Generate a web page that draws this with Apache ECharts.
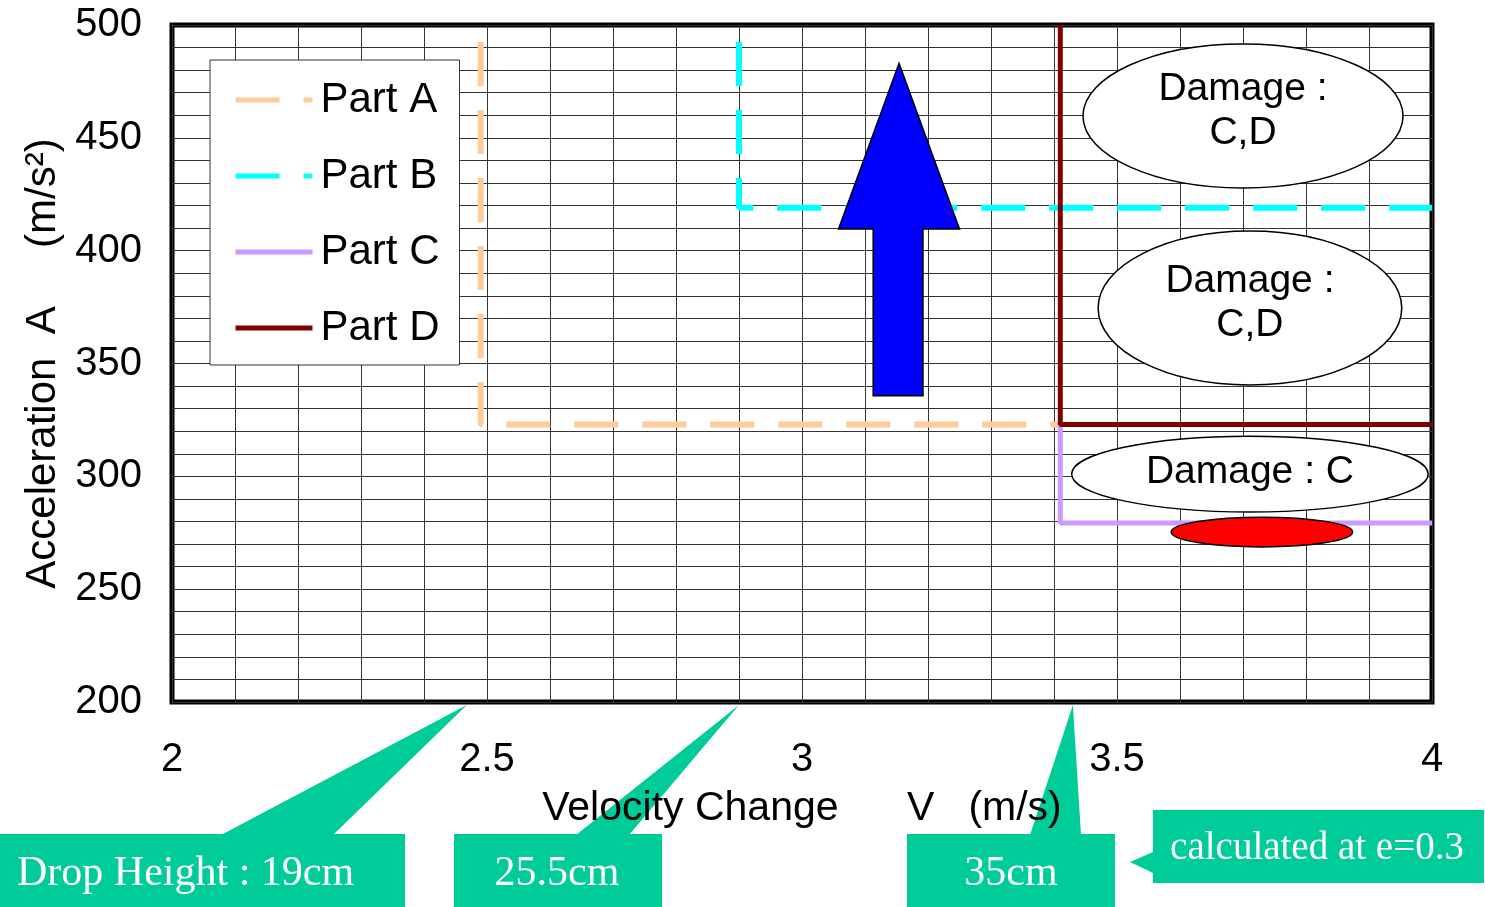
<!DOCTYPE html>
<html>
<head>
<meta charset="utf-8">
<script src="https://cdn.jsdelivr.net/npm/echarts@6/dist/echarts.min.js"></script>
<style>
  html, body { margin: 0; padding: 0; background: #fff; }
  #main { width: 1485px; height: 907px; }
</style>
</head>
<body>
<div id="main"></div>
<script>
// limit lines per part (velocity change V, acceleration A)
var partNames = ['Part A', 'Part B', 'Part C', 'Part D'];
var partAX = [2.49, 2.49, 3.41];
var partAY = [500, 323, 323];
var partBX = [2.90, 2.90, 4.0];
var partBY = [500, 419, 419];
var partCX = [3.41, 3.41, 4.0];
var partCY = [323, 279.3, 279.3];
var partDX = [3.41, 3.41, 4.0];
var partDY = [500, 323, 323];

// big arrow outline (data coords)
var arrowX = [3.154, 3.250, 3.192, 3.192, 3.113, 3.113, 3.058];
var arrowY = [483.0, 409.6, 409.6, 335.7, 335.7, 409.6, 409.6];

// damage ellipses: centre, half width (V), half height (A)
var ellipseCX = [3.700, 3.711, 3.711, 3.730];
var ellipseCY = [459.7, 374.6, 301.0, 275.3];
var ellipseRX = [0.254, 0.241, 0.283, 0.144];
var ellipseRY = [31.9, 34.1, 16.8, 6.6];
var ellipseText = ['Damage :\nC,D', 'Damage :\nC,D', 'Damage : C', ''];

// drop height callouts
var calloutText = ['Drop Height : 19cm', '25.5cm', '35cm'];
var calloutTipV = [2.468, 2.90, 3.43];

function pairs(xs, ys) {
  return xs.map(function (x, i) { return [x, ys[i]]; });
}

var chart = echarts.init(document.getElementById('main'));
var FONT = 'Liberation Sans, Arial, sans-serif';
var SERIF = 'Liberation Serif, Times New Roman, serif';

var option = {
  backgroundColor: '#fff',
  animation: false,
  grid: {
    left: 172, top: 25, right: 53, bottom: 205,
    show: true, borderColor: '#000', borderWidth: 5, backgroundColor: 'transparent'
  },
  legend: {
    data: partNames,
    orient: 'vertical',
    left: 210, top: 60,
    padding: [19, 20, 16, 23],
    itemWidth: 77, itemHeight: 14, itemGap: 34,
    backgroundColor: '#fff', borderColor: '#333', borderWidth: 1,
    itemStyle: { opacity: 0 },
    lineStyle: { width: 5, dashOffset: 0 },
    textStyle: { fontSize: 42, color: '#000', fontFamily: FONT, padding: [0, 0, 0, 3] }
  },
  xAxis: {
    type: 'value', min: 2, max: 4, interval: 0.5,
    name: 'Velocity Change      V   (m/s)',
    nameLocation: 'middle', nameGap: 86,
    nameTextStyle: { fontSize: 41, color: '#000', fontFamily: FONT },
    axisLine: { show: false }, axisTick: { show: false },
    axisLabel: { fontSize: 40, color: '#000', fontFamily: FONT, margin: 38 },
    splitLine: { show: true, lineStyle: { color: '#333', width: 1 } },
    minorTick: { show: false, splitNumber: 5 },
    minorSplitLine: { show: true, lineStyle: { color: '#333', width: 1 } }
  },
  yAxis: {
    type: 'value', min: 200, max: 500, interval: 50,
    name: 'Acceleration  A     (m/s²)',
    nameLocation: 'middle', nameGap: 108,
    nameTextStyle: { fontSize: 42, color: '#000', fontFamily: FONT },
    axisLine: { show: false }, axisTick: { show: false },
    axisLabel: { fontSize: 40, color: '#000', fontFamily: FONT, margin: 30, padding: [6, 0, 0, 0] },
    splitLine: { show: true, lineStyle: { color: '#333', width: 1 } },
    minorTick: { show: false, splitNumber: 5 },
    minorSplitLine: { show: true, lineStyle: { color: '#333', width: 1 } }
  },
  series: [
    {
      name: 'Part A', type: 'line', data: pairs(partAX, partAY), symbol: 'none',
      color: '#FFCC99',
      lineStyle: { color: '#FFCC99', width: 6, type: [44, 24], dashOffset: 51, cap: 'butt' }
    },
    {
      name: 'Part B', type: 'line', data: pairs(partBX, partBY), symbol: 'none',
      color: '#00FFFF',
      lineStyle: { color: '#00FFFF', width: 6, type: [44, 24], dashOffset: 51, cap: 'butt' }
    },
    {
      name: 'Part C', type: 'line', data: pairs(partCX, partCY), symbol: 'none',
      color: '#CC99FF',
      lineStyle: { color: '#CC99FF', width: 5 }
    },
    {
      name: 'Part D', type: 'line', data: pairs(partDX, partDY), symbol: 'none',
      color: '#800000',
      lineStyle: { color: '#800000', width: 5 }
    },
    {
      type: 'custom', z: 5,
      data: [[arrowX[0], arrowY[0]]],
      renderItem: function (params, api) {
        var pts = arrowX.map(function (x, i) { return api.coord([x, arrowY[i]]); });
        return {
          type: 'polygon',
          shape: { points: pts },
          style: { fill: '#0000FF', stroke: '#000', lineWidth: 1.5 }
        };
      }
    },
    {
      type: 'custom', z: 5,
      data: ellipseCX.map(function (x, i) { return [x, ellipseCY[i], ellipseRX[i], ellipseRY[i], i]; }),
      renderItem: function (params, api) {
        var i = api.value(4);
        var c = api.coord([api.value(0), api.value(1)]);
        var s = api.size([api.value(2), api.value(3)]);
        var red = ellipseText[i] === '';
        var kids = [{
          type: 'ellipse',
          shape: { cx: c[0], cy: c[1], rx: s[0], ry: s[1] },
          style: { fill: red ? '#FF0000' : '#fff', stroke: '#000', lineWidth: 1.5 }
        }];
        if (!red) {
          kids.push({
            type: 'text',
            style: {
              text: ellipseText[i], x: c[0], y: c[1] - (i === 2 ? 2 : 5),
              align: 'center', verticalAlign: 'middle',
              font: '39px ' + FONT, fill: '#000', lineHeight: 44
            }
          });
        }
        return { type: 'group', children: kids };
      }
    }
  ]
};

chart.setOption(option);

// callouts below the x axis, tips placed through the axis scale
var boxes = [
  { x: 0, y: 834, w: 405, h: 73, base: [221, 333], tx: 17, align: 'left' },
  { x: 454, y: 834, w: 208, h: 73, base: [576, 629], tx: 557, align: 'center' },
  { x: 907, y: 834, w: 208, h: 73, base: [1030, 1081], tx: 1011, align: 'center' }
];
var GREEN = '#00CC99';
var gfx = [];
boxes.forEach(function (b, i) {
  var tip = chart.convertToPixel({ gridIndex: 0 }, [calloutTipV[i], 200]);
  gfx.push({
    type: 'polygon', z: -1,
    shape: { points: [[b.base[0], b.y + 1], [b.base[1], b.y + 1], [tip[0], tip[1] + 3]] },
    style: { fill: GREEN }
  });
  gfx.push({
    type: 'rect', z: -1,
    shape: { x: b.x, y: b.y, width: b.w, height: b.h },
    style: { fill: GREEN }
  });
  gfx.push({
    type: 'text', z: 1,
    style: {
      text: calloutText[i], x: b.tx, y: b.y + 40,
      align: b.align, verticalAlign: 'middle',
      font: '42px ' + SERIF, fill: '#fff'
    }
  });
});
gfx.push({
  type: 'polygon', z: -1,
  shape: { points: [[1153, 852], [1153, 873], [1130, 862]] },
  style: { fill: GREEN }
});
gfx.push({
  type: 'rect', z: -1,
  shape: { x: 1153, y: 810, width: 331, height: 73 },
  style: { fill: GREEN }
});
gfx.push({
  type: 'text', z: 1,
  style: {
    text: 'calculated at e=0.3', x: 1317, y: 849,
    align: 'center', verticalAlign: 'middle',
    font: '39px ' + SERIF, fill: '#fff'
  }
});
chart.setOption({ graphic: gfx });
</script>
</body>
</html>
